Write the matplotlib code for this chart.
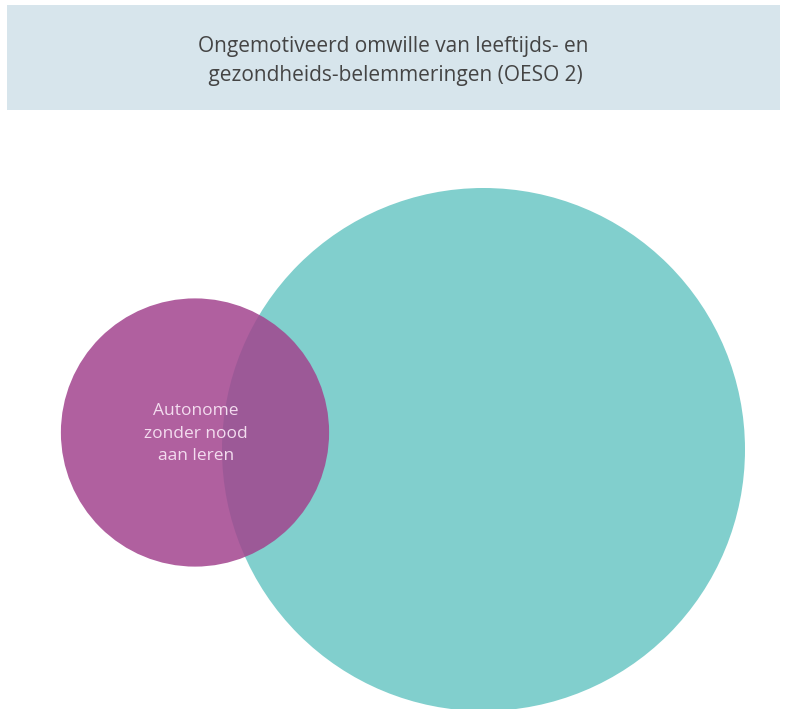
import numpy as np
import matplotlib.pyplot as plt
from matplotlib.patches import Circle, Rectangle

# Venn data: relative group sizes (area) and labels
groups = ["Ongemotiveerd omwille van leeftijds- en gezondheids-belemmeringen", "Autonome zonder nood aan leren"]
sizes = [100.0, 26.3]
labels = ["", "Autonome\nzonder nood\naan leren"]
colors = ["#81cfcd", "#a2448e"]
alphas = [1.0, 0.85]

title = "Ongemotiveerd omwille van leeftijds- en\n gezondheids-belemmeringen (OESO 2)"

fig = plt.figure(figsize=(7.87, 7.09), dpi=100)
ax = fig.add_axes([0, 0, 1, 1])
ax.set_xlim(0, 787)
ax.set_ylim(709, 0)
ax.axis('off')

# title banner
ax.add_patch(Rectangle((7, 5), 773, 105, facecolor="#d7e5ec", edgecolor="none"))
ax.text(393, 61, title, ha='center', va='center', fontsize=15,
        color="#444444", family="Open Sans", linespacing=1.45)

# scale circle radii from sizes (area proportional)
big_r = 261.5
radii = [big_r * np.sqrt(s / sizes[0]) for s in sizes]
centers = [(483.5, 449.5), (195, 432.5)]

for (cx, cy), r, c, a, lab in zip(centers, radii, colors, alphas, labels):
    ax.add_patch(Circle((cx, cy), r, facecolor=c, edgecolor="none", alpha=a))
    if lab:
        ax.text(cx + 1, cy + 1, lab, ha='center', va='center', fontsize=12.5,
                color="#f3dcef", family="Open Sans", linespacing=1.55)

fig.savefig("out.png", dpi=100)
